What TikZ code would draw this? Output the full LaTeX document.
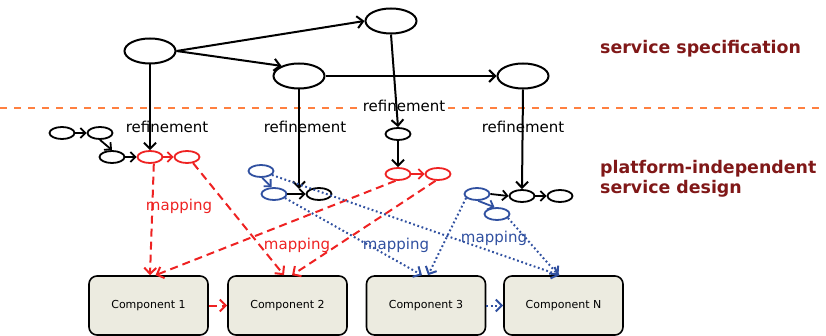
\documentclass[tikz,border=0pt]{standalone}
\usepackage{fontspec}
\setmainfont{DejaVu Sans}
\usetikzlibrary{shapes.geometric,arrows.meta,calc}
\definecolor{myred}{RGB}{238,34,34}
\definecolor{myblue}{RGB}{48,80,160}
\definecolor{darkred}{RGB}{128,24,24}
\definecolor{dashorange}{RGB}{255,128,64}
\definecolor{compfill}{RGB}{236,235,224}
\begin{document}
\begin{tikzpicture}[x=1pt,y=-1pt,
  bigell/.style={ellipse,draw,line width=2pt,inner sep=0pt,minimum width=51pt,minimum height=25pt},
  smallell/.style={ellipse,draw,line width=1.8pt,inner sep=0pt,minimum width=25pt,minimum height=12pt},
  redell/.style={smallell,draw=myred},
  blueell/.style={smallell,draw=myblue},
  arr/.style={line width=2pt,-{Straight Barb[length=6pt,width=12pt]}},
  sarr/.style={line width=1.8pt,-{Straight Barb[length=5pt,width=10pt]}},
  redmap/.style={line width=2pt,myred,dash pattern=on 8pt off 5pt,-{Straight Barb[length=6pt,width=12pt]}},
  bluemap/.style={line width=2pt,myblue,dash pattern=on 1.8pt off 2.6pt,-{Straight Barb[length=6pt,width=12pt]}},
  comp/.style={draw,line width=1.6pt,rounded corners=8pt,fill=compfill,minimum width=119pt,minimum height=59pt,inner sep=0pt,font=\fontsize{11}{13}\selectfont},
  lbl/.style={font=\fontsize{15}{18}\selectfont,inner sep=1pt},
  side/.style={font=\fontsize{17.4}{20}\selectfont\bfseries,text=darkred,anchor=west,align=left,inner sep=0pt}
]
\useasboundingbox (0,0) rectangle (826,336);
% separator
\draw[dashorange,line width=1.5pt,dash pattern=on 7pt off 7pt] (0,108) -- (826,108);
% side labels
\node[side] (ss) at (600,49) {service specification};
\node[side] (psd) at (600,179) {platform-independent\\service design};
% top level
\node[bigell] (A) at (150,51) {};
\node[bigell] (B) at (391,21) {};
\node[bigell] (C) at (299,76) {};
\node[bigell] (D) at (523,76) {};
% refinement labels
\node[lbl] (ref1) at (167,127) {refinement};
\node[lbl] (ref2) at (305,127) {refinement};
\node[lbl,fill=white] (ref3) at (404,106) {refinement};
\node[lbl] (ref4) at (523,127) {refinement};
% group 1
\node[smallell] (e1) at (62,133) {};
\node[smallell] (e2) at (100,133) {};
\node[smallell] (e3) at (112,157) {};
\node[redell] (r1) at (150,157) {};
\node[redell] (r2) at (187,157) {};
% group 2
\node[blueell] (b1) at (261,171) {};
\node[blueell] (b2) at (274,194) {};
\node[smallell] (k1) at (319,194) {};
% group 3
\node[smallell] (s1) at (398,134) {};
\node[redell] (r3) at (398,174) {};
\node[redell] (r4) at (438,174) {};
% group 4
\node[blueell] (b3) at (477,194) {};
\node[blueell] (b4) at (497,214) {};
\node[smallell] (k2) at (522,196) {};
\node[smallell] (k3) at (560,196) {};
% components
\node[comp] (c1) at (148.5,305.5) {Component 1};
\node[comp] (c2) at (287.5,305.5) {Component 2};
\node[comp] (c3) at (426,305.5) {Component 3};
\node[comp] (cn) at (563.5,305.5) {Component N};
% mapping labels
\node[lbl,text=myred] (m1) at (179,206) {mapping};
\node[lbl,text=myred] (m2) at (297,245) {mapping};
\node[lbl,text=myblue] (m3) at (396,245) {mapping};
\node[lbl,text=myblue] (m4) at (494,238) {mapping};
% top arrows
\draw[arr] (A.east) -- (B.west);
\draw[arr] (A.east) -- (C.150);
\draw[arr] (C.east) -- (D.west);
% refinement arrows
\draw[arr] (A.south) -- (r1.north);
\draw[arr] (C.south) -- (C.south |- k1.150);
\draw[arr] (B.south) -- (s1.north);
\draw[arr] (s1.south) -- (r3.north);
\draw[arr] (D.south) -- (k2.north);
% small arrows
\draw[sarr] (e1.east) -- (e2.west);
\draw[sarr] (e2.south) -- (e3.north);
\draw[sarr] (e3.east) -- (r1.west);
\draw[sarr,myred] (r1.east) -- (r2.west);
\draw[sarr,myred] (r3.east) -- (r4.west);
\draw[sarr,myblue] (b1.-80) -- (b2.110);
\draw[sarr] (b2.east) -- (k1.west);
\draw[sarr,myblue] (b3.-80) -- (b4.110);
\draw[sarr] (b3.east) -- (k2.west);
\draw[sarr] (k2.east) -- (k3.west);
% mappings
\draw[redmap] (r1.-60) -- ([xshift=1.5pt]c1.north);
\draw[redmap] (r3.-110) -- ([xshift=7pt]c1.north);
\draw[redmap] (r2.-45) -- ([xshift=-3.5pt]c2.north);
\draw[redmap] (r4.-110) -- ([xshift=4.5pt]c2.north);
\draw[bluemap] (b1.-20) -- ([xshift=-4pt]cn.north);
\draw[bluemap] (b4.-20) -- ([xshift=-5pt]cn.north);
\draw[bluemap] (b2.-20) -- ([xshift=-4pt]c3.north);
\draw[bluemap] (b3.200) -- ([xshift=2pt]c3.north);
% component links
\draw[redmap] (c1.east) -- (c2.west);
\draw[bluemap] (c3.east) -- (cn.west);
\end{tikzpicture}
\end{document}
